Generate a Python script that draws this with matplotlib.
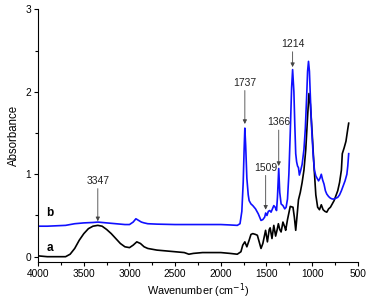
import matplotlib
matplotlib.use("Agg")
import matplotlib.pyplot as plt
from matplotlib.ticker import MultipleLocator

plt.rcParams["font.family"] = ["Liberation Sans", "DejaVu Sans"]

# spectrum a (black)
wn_a = [4000, 3900, 3800, 3700, 3650, 3600, 3550, 3500, 3450, 3400, 3347, 3300, 3250, 3200,
        3150, 3100, 3050, 3000, 2960, 2920, 2880, 2840, 2800, 2700, 2600, 2500, 2400, 2350,
        2300, 2200, 2100, 2000, 1900, 1820, 1780, 1760, 1737, 1715, 1690, 1670, 1650, 1620,
        1600, 1580, 1560, 1540, 1510, 1490, 1470, 1460, 1440, 1420, 1400, 1385, 1370, 1355,
        1340, 1320, 1300, 1290, 1270, 1240, 1210, 1195, 1180, 1165, 1150, 1130, 1110, 1090,
        1070, 1050, 1035, 1020, 1000, 980, 960, 940, 920, 900, 880, 860, 840, 820, 800,
        760, 720, 700, 680, 670, 650, 630, 610, 600]
abs_a = [0.01, 0.0, 0.0, 0.0, 0.03, 0.1, 0.2, 0.28, 0.34, 0.37, 0.38, 0.37, 0.33, 0.28,
         0.22, 0.16, 0.12, 0.11, 0.14, 0.18, 0.16, 0.12, 0.1, 0.08, 0.07, 0.06, 0.05, 0.03,
         0.04, 0.05, 0.05, 0.05, 0.04, 0.03, 0.06, 0.14, 0.18, 0.12, 0.2, 0.27, 0.28, 0.27,
         0.26, 0.18, 0.1, 0.16, 0.32, 0.18, 0.33, 0.35, 0.22, 0.38, 0.25, 0.32, 0.4, 0.33,
         0.3, 0.42, 0.36, 0.32, 0.45, 0.61, 0.6, 0.48, 0.32, 0.5, 0.69, 0.78, 0.9, 1.05,
         1.3, 1.7, 1.98, 1.85, 1.5, 1.1, 0.75, 0.6, 0.57, 0.63, 0.57, 0.55, 0.54, 0.58, 0.6,
         0.68, 0.8, 0.9, 1.05, 1.25, 1.32, 1.4, 1.55, 1.62]

# spectrum b (blue)
wn_b = [4000, 3900, 3800, 3700, 3600, 3500, 3400, 3347, 3250, 3150, 3050, 3000, 2960, 2930,
        2900, 2870, 2840, 2800, 2700, 2500, 2300, 2150, 2000, 1900, 1820, 1790, 1770, 1755,
        1745, 1737, 1728, 1715, 1700, 1690, 1670, 1650, 1620, 1590, 1560, 1540, 1520, 1509,
        1495, 1480, 1465, 1450, 1435, 1420, 1405, 1390, 1380, 1366, 1355, 1340, 1320, 1300,
        1285, 1270, 1255, 1240, 1225, 1214, 1200, 1190, 1180, 1170, 1160, 1150, 1140, 1125,
        1110, 1090, 1075, 1060, 1050, 1040, 1030, 1020, 1005, 990, 975, 960, 945, 930, 915,
        900, 885, 870, 855, 840, 820, 800, 780, 760, 740, 720, 700, 680, 660, 640, 620, 610,
        600]
abs_b = [0.37, 0.37, 0.375, 0.38, 0.4, 0.41, 0.415, 0.42, 0.41, 0.4, 0.39, 0.39, 0.42, 0.46,
         0.44, 0.42, 0.41, 0.4, 0.395, 0.39, 0.39, 0.39, 0.39, 0.385, 0.38, 0.4, 0.55, 0.9,
         1.3, 1.56, 1.35, 0.95, 0.75, 0.68, 0.64, 0.62, 0.58, 0.52, 0.44, 0.45, 0.48, 0.53,
         0.5, 0.55, 0.56, 0.54, 0.58, 0.62, 0.6, 0.56, 0.72, 1.07, 0.78, 0.64, 0.62, 0.58,
         0.6, 0.7, 1.0, 1.5, 2.05, 2.27, 2.0, 1.6, 1.25, 1.15, 1.1, 1.08, 0.99, 1.05, 1.12,
         1.3, 1.55, 1.95, 2.25, 2.37, 2.25, 1.95, 1.55, 1.25, 1.05, 0.98, 0.95, 0.92, 0.95,
         1.0, 0.93, 0.88, 0.8, 0.76, 0.73, 0.71, 0.7, 0.7, 0.71, 0.72, 0.75, 0.8, 0.86, 0.92,
         1.0, 1.1, 1.25]

# peak labels: wavenumber, text height, arrow tip height
peak_wn = [3347, 1737, 1509, 1366, 1214]
peak_text_y = [0.86, 2.05, 1.02, 1.57, 2.52]
peak_tip_y = [0.43, 1.61, 0.57, 1.10, 2.30]

fig = plt.figure(figsize=(3.67, 3.04), dpi=100)
ax = fig.add_axes([0.104, 0.138, 0.871, 0.831])

ax.plot(wn_a, abs_a, color="black", lw=1.2)
ax.plot(wn_b, abs_b, color="#1010ff", lw=1.2)

for w, ty, tip in zip(peak_wn, peak_text_y, peak_tip_y):
    ax.annotate(str(w), xy=(w, tip), xytext=(w, ty), ha="center", va="bottom",
                fontsize=7.5, color="#222222",
                arrowprops=dict(arrowstyle="-|>", color="#444444", lw=0.6,
                                mutation_scale=6, shrinkA=0, shrinkB=0))

ax.text(3870, 0.53, "b", fontsize=8.5, fontweight="bold", ha="center", va="center")
ax.text(3875, 0.10, "a", fontsize=8.5, fontweight="bold", ha="center", va="center")

ax.set_xlim(4000, 500)
ax.set_ylim(-0.065, 3)
ax.xaxis.set_major_locator(MultipleLocator(500))
ax.xaxis.set_minor_locator(MultipleLocator(250))
ax.yaxis.set_major_locator(MultipleLocator(1))
ax.yaxis.set_minor_locator(MultipleLocator(0.5))
ax.tick_params(which="major", labelsize=7.3, length=3, width=0.8, pad=2)
ax.tick_params(which="minor", length=2, width=0.8)
ax.spines["top"].set_visible(False)
ax.spines["right"].set_visible(False)
ax.set_xlabel("Wavenumber (cm$^{-1}$)", fontsize=7.8, labelpad=2)
ax.set_ylabel("Absorbance", fontsize=8.3, labelpad=4)

fig.savefig("out.png", dpi=100)
